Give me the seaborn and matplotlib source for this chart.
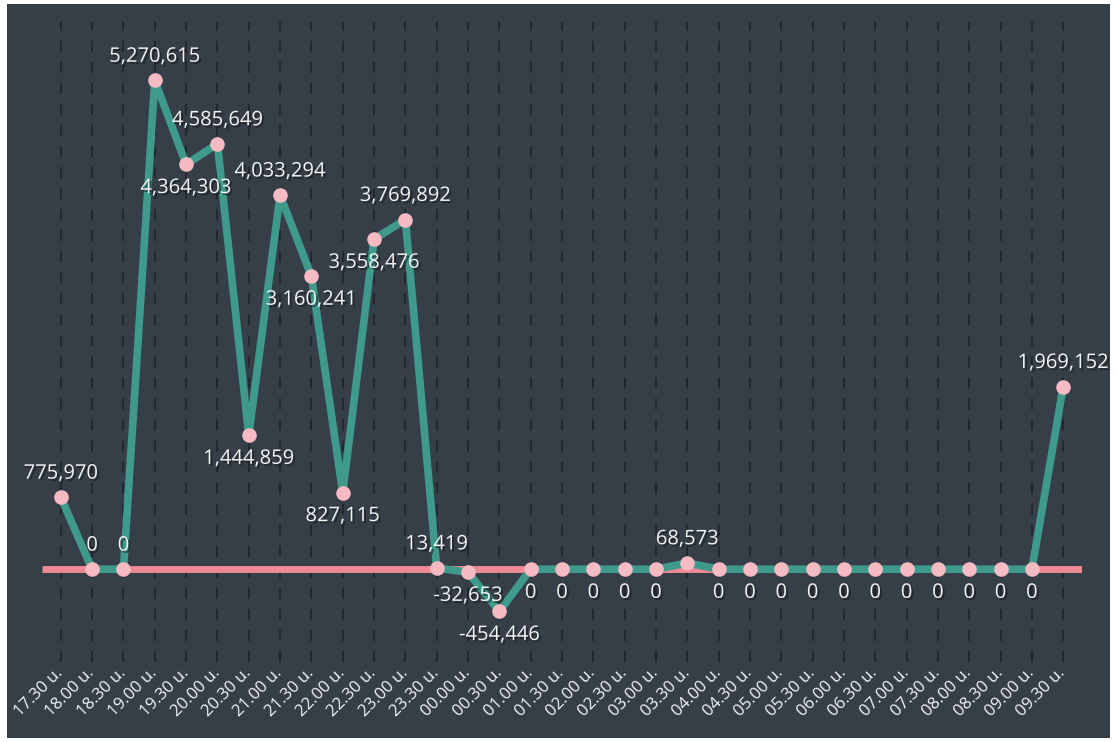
import numpy as np
import pandas as pd
import matplotlib
matplotlib.use("Agg")
import matplotlib.pyplot as plt
import matplotlib.patheffects as pe
from matplotlib.patches import Rectangle
import seaborn as sns

# data
times = ["17.30", "18.00", "18.30", "19.00", "19.30", "20.00", "20.30", "21.00",
         "21.30", "22.00", "22.30", "23.00", "23.30", "00.00", "00.30", "01.00",
         "01.30", "02.00", "02.30", "03.00", "03.30", "04.00", "04.30", "05.00",
         "05.30", "06.00", "06.30", "07.00", "07.30", "08.00", "08.30", "09.00",
         "09.30"]
values = [775970, 0, 0, 5270615, 4364303, 4585649, 1444859, 4033294,
          3160241, 827115, 3558476, 3769892, 13419, -32653, -454446, 0,
          0, 0, 0, 0, 68573, 0, 0, 0,
          0, 0, 0, 0, 0, 0, 0, 0,
          1969152]
# 1 = label above point, -1 = below
label_side = [1, 1, 1, 1, -1, 1, -1, 1,
              -1, -1, -1, 1, 1, -1, -1, -1,
              -1, -1, -1, -1, 1, -1, -1, -1,
              -1, -1, -1, -1, -1, -1, -1, -1,
              1]

tick_labels = [t + " u." for t in times]

df = pd.DataFrame({"pos": np.arange(len(times)), "value": values})

bg = "#363f48"
teal = "#3f9a8b"
pink = "#f6bac3"
red = "#ee8a95"
grid_c = "#22282e"
txt = "#f4f4f4"

sns.set_theme(style="dark")
plt.rcParams["font.family"] = ["Open Sans", "DejaVu Sans"]

fig = plt.figure(figsize=(11.17, 7.42), dpi=100, facecolor="white")
fig.patches.append(Rectangle((7 / 1117, 4 / 742), 1103 / 1117, 734 / 742,
                             transform=fig.transFigure, facecolor=bg,
                             edgecolor="none", zorder=-10))
ax = fig.add_axes([42 / 1117, 1 - 662 / 742, 1040 / 1117, 640 / 742])
ax.set_facecolor(bg)
ax.patch.set_alpha(0)

for p in df["pos"]:
    ax.axvline(p, color=grid_c, lw=1.5, ls=(0, (5.3, 4.8)), zorder=1)

ax.axhline(0, color=red, lw=5, zorder=2, solid_capstyle="butt")

sns.lineplot(data=df, x="pos", y="value", ax=ax, sort=False, color=teal,
             linewidth=5.5, marker="o", markersize=10.5,
             markerfacecolor=pink, markeredgewidth=0, zorder=3)

shadow = [pe.SimplePatchShadow(offset=(1.5, -1.5), shadow_rgbFace="#15191d", alpha=0.6),
          pe.Normal()]
for p, v, s in zip(df["pos"], values, label_side):
    ax.annotate(f"{v:,}", (p, v), xytext=(0, 17 * s), textcoords="offset points",
                ha="center", va="center", color=txt, fontsize=14.5,
                path_effects=shadow, zorder=5)

ax.set_xlim(-0.6, len(times) - 0.4)
ax.set_ylim(-1.0e6, 5.9e6)
ax.set_xticks(df["pos"])
ax.set_xticklabels(tick_labels, rotation=45, ha="right", va="center",
                   rotation_mode="anchor", color=txt, fontsize=12)
ax.tick_params(axis="x", length=0, pad=6)
ax.set_yticks([])
ax.set_xlabel("")
ax.set_ylabel("")
for sp in ax.spines.values():
    sp.set_visible(False)
ax.grid(False)

fig.savefig("out.png", dpi=100, facecolor="white")
